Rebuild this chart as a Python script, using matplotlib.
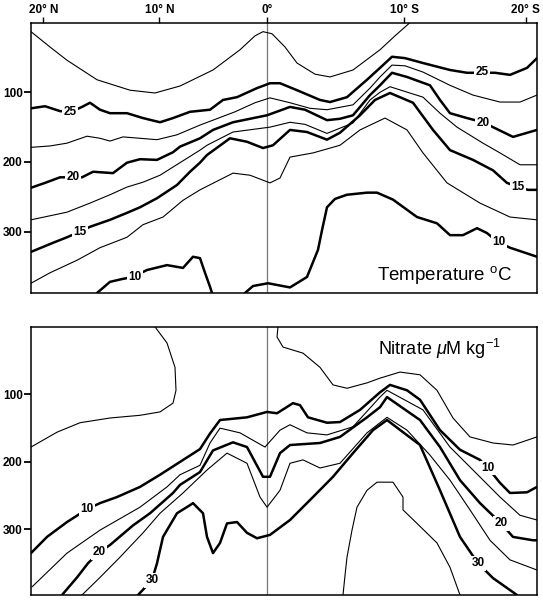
import matplotlib
matplotlib.use("Agg")
import matplotlib.pyplot as plt

plt.rcParams['font.family'] = ['Liberation Sans', 'DejaVu Sans']
plt.rcParams['mathtext.fontset'] = 'custom'
plt.rcParams['mathtext.rm'] = 'Liberation Sans'
plt.rcParams['mathtext.it'] = 'Liberation Sans:italic'

# section axis: distance along track (km), with latitude labels at these positions
lat_km = [123, 1283, 2363, 3730, 4947]
lat_labels = ["20° N", "10° N", "0°", "10° S", "20° S"]
equator_km = 2363
depth_ticks = [100, 200, 300]

# ---- temperature contours (km, depth m) ----
t275_km = [0, 190, 360, 660, 990, 1240, 1490, 1820, 2090, 2240, 2320, 2410, 2540, 2660, 2840, 2990, 3220, 3490, 3640, 3790]
t275_z = [13, 35, 54, 82, 97, 101, 91, 68, 39, 19, 13, 16, 35, 58, 74, 78, 68, 39, 19, 0]

t25_km = [0, 140, 290, 400, 510, 590, 690, 790, 960, 1120, 1290, 1420, 1590, 1790, 1920, 2060, 2260, 2390, 2490, 2660,
          2890, 2990, 3160, 3360, 3490, 3610, 3740, 3920, 4190, 4360, 4520, 4640, 4790, 4960, 5060]
t25_z = [123, 120, 127, 128, 121, 115, 125, 130, 130, 137, 143, 137, 128, 125, 111, 107, 94, 87, 87, 97,
         111, 114, 107, 82, 65, 49, 51, 58, 68, 72, 72, 72, 75, 65, 51]

t225_km = [0, 190, 360, 560, 690, 790, 920, 1090, 1260, 1460, 1690, 1820, 2040, 2240, 2390, 2590, 2790, 2960, 3220,
           3390, 3490, 3610, 3740, 3920, 4190, 4420, 4690, 4890, 5060]
t225_z = [179, 177, 173, 163, 166, 170, 164, 166, 168, 161, 147, 140, 128, 115, 108, 115, 123, 125, 118,
          94, 78, 61, 62, 71, 90, 104, 114, 114, 104]

t20_km = [0, 140, 290, 410, 510, 620, 820, 960, 1090, 1260, 1420, 1490, 1690, 1820, 2020, 2190, 2360, 2590, 2740,
          2960, 3090, 3220, 3390, 3490, 3610, 3760, 3990, 4090, 4190, 4360, 4520, 4620, 4820, 5060]
t20_z = [237, 230, 222, 222, 222, 214, 216, 201, 196, 197, 186, 178, 166, 154, 143, 138, 133, 121, 125,
         140, 138, 133, 104, 90, 72, 78, 90, 111, 130, 137, 143, 150, 164, 154]

t175_km = [0, 360, 590, 790, 960, 1120, 1290, 1490, 1690, 1760, 2020, 2390, 2590, 2740, 2960, 3220, 3390, 3490,
           3590, 3920, 4090, 4260, 4520, 4690, 4890, 5060]
t175_z = [283, 272, 259, 247, 236, 229, 219, 201, 183, 176, 157, 150, 143, 146, 159, 144, 111, 100,
          92, 107, 130, 150, 173, 187, 204, 204]

t15_km = [0, 220, 360, 490, 590, 790, 960, 1090, 1260, 1460, 1590, 1690, 1760, 1990, 2160, 2320, 2420, 2590, 2760,
          2960, 3090, 3290, 3440, 3590, 3820, 4020, 4190, 4420, 4620, 4760, 4870, 4970, 5060]
t15_z = [329, 316, 308, 300, 293, 283, 273, 265, 252, 233, 214, 201, 190, 166, 171, 180, 176, 154, 157,
         168, 158, 133, 111, 101, 115, 154, 183, 197, 212, 230, 236, 240, 240]

t125_km = [0, 190, 460, 690, 960, 1120, 1320, 1520, 1690, 2020, 2190, 2390, 2490, 2590, 2820, 3090, 3290, 3540,
           3760, 3920, 4160, 4490, 4790, 5060]
t125_z = [374, 359, 341, 323, 308, 290, 279, 255, 240, 216, 219, 230, 223, 193, 187, 176, 154, 137,
          154, 187, 230, 259, 279, 283]

t10a_km = [660, 790, 910, 1020, 1160, 1360, 1520, 1620, 1690, 1740, 1790, 1810]
t10a_z = [388, 372, 368, 365, 355, 348, 352, 336, 338, 359, 379, 388]
t10b_km = [2140, 2220, 2370, 2590, 2760, 2870, 2910, 2960, 3040, 3160, 3360, 3460, 3620, 3860, 4060, 4190, 4320,
           4460, 4560, 4670, 4790, 5060]
t10b_z = [388, 378, 374, 380, 365, 326, 298, 265, 253, 247, 244, 244, 254, 279, 288, 305, 305,
          295, 302, 315, 323, 336]

t_label_text = ["25", "20", "15", "10", "25", "20", "15", "10"]
t_label_km = [390, 417, 490, 1040, 4510, 4520, 4870, 4680]
t_label_z = [128, 222, 300, 365, 71, 144, 236, 315]

# ---- nitrate contours (km, depth m) ----
n_a_km = [1240, 1360, 1440, 1450, 1420, 1290, 1090, 790, 490, 260, 0]
n_a_z = [0, 24, 60, 94, 113, 126, 131, 135, 142, 156, 178]
n_b_km = [2470, 2460, 2520, 2720, 2890, 3020, 3160, 3360, 3490, 3690, 3890, 4060, 4220, 4390, 4620, 4820, 5060]
n_b_z = [0, 15, 30, 39, 60, 86, 91, 83, 76, 67, 71, 94, 135, 163, 172, 175, 163]

n10_km = [0, 160, 360, 560, 690, 860, 1090, 1290, 1490, 1690, 1790, 1890, 2160, 2360, 2460, 2620, 2690, 2770, 2960,
          3090, 3290, 3490, 3590, 3760, 3890, 4090, 4290, 4490, 4570, 4690, 4790, 4960, 5060]
n10_z = [335, 311, 289, 270, 261, 252, 237, 219, 200, 181, 158, 138, 134, 126, 128, 113, 116, 134, 142,
         141, 123, 97, 86, 94, 108, 153, 182, 197, 209, 231, 246, 245, 237]

n15_km = [10, 360, 690, 1090, 1360, 1490, 1690, 1790, 1890, 2090, 2340, 2490, 2590, 2760, 2960, 3220, 3490, 3560, 3920,
          4190, 4420, 4690, 4890, 5060]
n15_z = [385, 335, 301, 267, 237, 219, 205, 172, 150, 157, 178, 153, 145, 157, 160, 148, 104, 94, 123,
         178, 212, 252, 279, 286]

n20_km = [310, 460, 570, 680, 790, 1020, 1190, 1420, 1490, 1690, 1820, 2020, 2160, 2320, 2390, 2490, 2590, 2890,
          3090, 3360, 3490, 3560, 3890, 4090, 4290, 4490, 4700, 4820, 5020, 5060]
n20_z = [397, 371, 350, 334, 323, 294, 276, 246, 234, 215, 183, 171, 178, 222, 222, 187, 175, 172,
         163, 134, 119, 104, 138, 178, 227, 261, 291, 311, 316, 316]

n25_km = [510, 690, 890, 1120, 1290, 1520, 1760, 1960, 2160, 2290, 2360, 2490, 2590, 2720, 2890, 3090, 3360, 3490,
          3560, 3760, 3990, 4190, 4390, 4590, 4790, 5060]
n25_z = [397, 371, 341, 305, 276, 246, 212, 187, 202, 252, 267, 242, 202, 197, 209, 202, 157, 142,
         134, 153, 190, 227, 271, 316, 345, 360]

n30_km = [1070, 1210, 1260, 1320, 1460, 1590, 1620, 1720, 1760, 1820, 1890, 1960, 2060, 2160, 2260, 2390, 2590,
          2820, 3020, 3220, 3420, 3560, 3890, 4090, 4290, 4470, 4620, 4860]
n30_z = [397, 375, 350, 311, 276, 264, 261, 276, 311, 335, 320, 291, 289, 305, 313, 308, 286,
         252, 222, 187, 153, 138, 175, 242, 311, 350, 372, 397]

n35_km = [3120, 3140, 3160, 3210, 3260, 3360, 3460, 3620, 3720, 3720, 3860, 4060, 4190, 4290]
n35_z = [397, 368, 341, 301, 267, 242, 230, 230, 252, 271, 291, 320, 356, 397]

n_label_text = ["10", "20", "30", "10", "20", "30"]
n_label_km = [560, 680, 1210, 4570, 4700, 4470]
n_label_z = [270, 334, 375, 209, 291, 350]

THICK = 1.8
THIN = 0.8

fig = plt.figure(figsize=(5.43, 6.0), dpi=100)
ax1 = fig.add_axes([31 / 543, 1 - 293 / 600, 506 / 543, 270.4 / 600])
ax2 = fig.add_axes([31 / 543, 1 - 595 / 600, 506 / 543, 268.2 / 600])

temp_lines = [(t275_km, t275_z, THIN), (t25_km, t25_z, THICK), (t225_km, t225_z, THIN),
              (t20_km, t20_z, THICK), (t175_km, t175_z, THIN), (t15_km, t15_z, THICK),
              (t125_km, t125_z, THIN), (t10a_km, t10a_z, THICK), (t10b_km, t10b_z, THICK)]
nit_lines = [(n_a_km, n_a_z, THIN), (n_b_km, n_b_z, THIN), (n10_km, n10_z, THICK),
             (n15_km, n15_z, THIN), (n20_km, n20_z, THICK), (n25_km, n25_z, THIN),
             (n30_km, n30_z, THICK), (n35_km, n35_z, THIN)]

for ax, lines, labels, zmax in [(ax1, temp_lines, (t_label_text, t_label_km, t_label_z), 388),
                                (ax2, nit_lines, (n_label_text, n_label_km, n_label_z), 397)]:
    for xs, zs, lw in lines:
        ax.plot(xs, zs, color='black', lw=lw, solid_capstyle='round', solid_joinstyle='round')
    for s, x, z in zip(*labels):
        ax.text(x, z, s, ha='center', va='center', fontsize=8.5, fontweight='bold', zorder=5,
                bbox=dict(boxstyle='square,pad=0.12', fc='white', ec='none'))
    ax.axvline(equator_km, color='#777777', lw=0.9, zorder=1)
    ax.set_xlim(0, 5060)
    ax.set_ylim(zmax, 0)
    ax.set_yticks(depth_ticks)
    ax.tick_params(axis='y', direction='out', length=5, width=1.3, pad=1, labelsize=8.5)
    for lab in ax.get_yticklabels():
        lab.set_fontweight('bold')
    for sp in ax.spines.values():
        sp.set_linewidth(1.1)

ax1.xaxis.tick_top()
ax1.set_xticks(lat_km, lat_labels)
ax1.tick_params(axis='x', direction='out', length=4, width=1.0, pad=1, labelsize=8.5)
for lab in ax1.get_xticklabels():
    lab.set_fontweight('bold')
ax2.set_xticks([])

ax1.text(0.684, 0.048, "Temperature $^{\\rm o}$C", transform=ax1.transAxes, fontsize=13.5,
         ha='left', va='baseline')
ax2.text(0.685, 0.895, "Nitrate $\\mu$M kg$^{-1}$", transform=ax2.transAxes, fontsize=13,
         ha='left', va='baseline')

fig.savefig("out.png", dpi=100)
